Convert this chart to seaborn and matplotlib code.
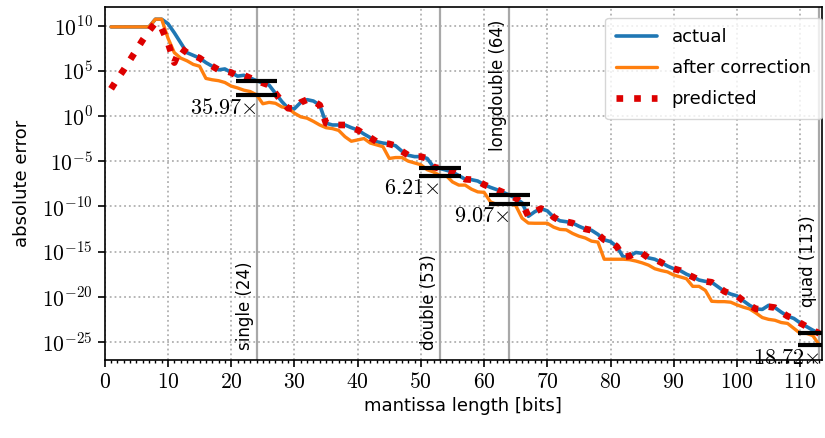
import matplotlib
matplotlib.use("Agg")
import matplotlib.pyplot as plt
import matplotlib.ticker as mticker
import numpy as np
import seaborn as sns

# mantissa length in bits
bits = list(range(1, 114))

# log10 of the absolute error
actual_log10 = [
    9.85, 9.85, 9.85, 9.85, 9.85, 9.85, 9.85, 10.7, 10.7, 10.2,
    9.2, 8.1, 7.0, 6.7, 6.4, 5.9, 5.5, 5.1, 5.2, 4.8,
    4.4, 4.5, 4.2, 3.9, 3.65, 3.4, 2.5, 1.6, 0.85, 0.8,
    1.5, 1.8, 1.65, 1.2, -0.8, -1.0, -1.0, -1.0, -1.3, -1.55,
    -2.0, -2.4, -2.85, -3.0, -3.1, -3.3, -3.9, -4.35, -4.5, -4.5,
    -4.7, -5.65, -5.8, -6.0, -6.2, -6.6, -7.0, -7.05, -7.2, -7.6,
    -7.9, -8.15, -8.45, -8.75, -9.1, -9.6, -11.1, -10.6, -10.25, -10.5,
    -11.2, -11.6, -11.7, -11.85, -12.2, -12.5, -12.65, -13.1, -13.7, -13.9,
    -14.45, -15.6, -15.5, -15.1, -15.2, -15.7, -15.85, -16.2, -16.6, -16.9,
    -17.1, -17.5, -17.8, -18.15, -18.3, -18.4, -18.9, -19.4, -19.7, -19.9,
    -20.45, -20.95, -21.35, -21.4, -20.95, -21.2, -21.7, -22.15, -22.4, -22.9,
    -23.3, -23.7, -24.05,
]
corrected_log10 = [
    9.85, 9.85, 9.85, 9.85, 9.85, 9.85, 9.85, 10.7, 10.7, 8.6,
    7.0, 6.4, 6.1, 5.7, 5.5, 4.15, 4.0, 3.9, 3.7, 3.3,
    3.1, 2.85, 2.7, 2.34, 1.35, 1.5, 1.4, 1.0, 0.85, 0.3,
    -0.1, -0.25, -0.6, -1.0, -1.3, -1.4, -1.6, -2.3, -2.8, -2.65,
    -2.5, -3.0, -3.2, -3.4, -4.7, -4.6, -4.6, -5.0, -5.2, -5.4,
    -5.95, -6.2, -6.59, -6.6, -7.3, -7.65, -7.65, -8.1, -8.4, -8.45,
    -9.5, -9.8, -9.75, -9.71, -9.9, -11.3, -11.85, -11.87, -11.87, -11.87,
    -12.3, -12.55, -12.6, -13.0, -13.3, -13.5, -13.85, -13.95, -15.85, -15.85,
    -15.85, -15.85, -15.9, -16.05, -16.25, -16.5, -16.9, -17.1, -17.25, -17.6,
    -17.8, -18.0, -18.85, -18.85, -19.3, -20.5, -20.54, -20.54, -20.6, -20.9,
    -21.15, -21.35, -21.8, -22.3, -22.5, -22.6, -22.85, -22.95, -23.5, -24.05,
    -24.05, -24.3, -25.32,
]
predicted_log10 = [
    3.0, 4.1, 5.1, 6.2, 7.3, 8.4, 9.4, 10.3, 9.7, 8.1,
    5.9, 7.5, 7.0, 6.7, 6.4, 5.9, 5.5, 5.1, 5.0, 4.8,
    4.4, 4.5, 4.2, 3.9, 3.65, 3.4, 2.5, 1.6, 0.85, 0.8,
    1.5, 1.8, 1.65, 1.2, -0.8, -1.0, -1.0, -1.0, -1.3, -1.55,
    -2.0, -2.4, -2.85, -3.0, -3.1, -3.3, -3.9, -4.35, -4.5, -4.5,
    -4.7, -5.65, -5.8, -6.0, -6.2, -6.6, -7.0, -7.05, -7.2, -7.6,
    -7.9, -8.15, -8.45, -8.75, -9.1, -9.6, -11.1, -10.6, -10.25, -10.5,
    -11.2, -11.6, -11.7, -11.85, -12.2, -12.5, -12.65, -13.1, -13.7, -13.9,
    -14.45, -15.6, -15.5, -15.1, -15.2, -15.7, -15.85, -16.2, -16.6, -16.9,
    -17.1, -17.5, -17.8, -18.15, -18.3, -18.4, -18.9, -19.4, -19.7, -19.9,
    -20.45, -20.95, -21.35, -21.4, -21.1, -21.2, -21.7, -22.15, -22.4, -22.9,
    -23.3, -23.7, -24.05,
]

format_names = ["single", "double", "longdouble", "quad"]
format_bits = [24, 53, 64, 113]
# where the rotated label sits, in axes fraction (va, y)
format_label_pos = [("bottom", 0.028), ("bottom", 0.028), ("top", 0.965), ("bottom", 0.15)]
improvement = [35.97, 6.21, 9.07, 18.72]

sns.set_theme(style="ticks", rc={
    "text.color": "black",
    "axes.labelcolor": "black",
    "axes.edgecolor": "black",
    "xtick.color": "black",
    "ytick.color": "black",
})
plt.rcParams["font.family"] = ["DejaVu Sans"]
plt.rcParams["mathtext.fontset"] = "cm"
plt.rcParams["axes.linewidth"] = 1.2

fig, ax = plt.subplots(figsize=(8.25, 4.38), dpi=100)
fig.subplots_adjust(left=0.127, right=0.996, top=0.984, bottom=0.178)

actual = 10.0 ** np.array(actual_log10)
corrected = 10.0 ** np.array(corrected_log10)
predicted = 10.0 ** np.array(predicted_log10)

sns.lineplot(x=bits, y=actual, ax=ax, color="#1f77b4", linewidth=2.6, label="actual", zorder=3)
sns.lineplot(x=bits, y=corrected, ax=ax, color="#ff7f0e", linewidth=2.4, label="after correction", zorder=3)
sns.lineplot(x=bits, y=predicted, ax=ax, color="#dd0000", linewidth=4.8, linestyle=":",
             label="predicted", zorder=4)

ax.set_yscale("log")
ax.set_xlim(0, 113.4)
ax.set_ylim(10.0 ** -27.0, 10.0 ** 12.05)
ax.set_yticks([10.0 ** k for k in range(-25, 11, 5)])
ax.yaxis.set_minor_locator(mticker.NullLocator())
ax.yaxis.set_major_formatter(mticker.FuncFormatter(
    lambda v, _p: f"$10^{{{int(round(np.log10(v)))}}}$"))
ax.xaxis.set_major_locator(mticker.MultipleLocator(10))
ax.xaxis.set_minor_locator(mticker.MultipleLocator(1))
ax.xaxis.set_major_formatter(mticker.FuncFormatter(lambda v, _p: f"${v:g}$"))
ax.tick_params(axis="both", which="major", labelsize=15.5, length=5, width=1.2, direction="out")
ax.tick_params(axis="x", which="minor", length=2.5, width=1.0, direction="out")
ax.grid(True, which="major", color="#b0b0b0", linestyle=":", linewidth=1.3)

trans = ax.get_xaxis_transform()
for name, b, (va, ypos) in zip(format_names, format_bits, format_label_pos):
    ax.axvline(b, color="#a8a8a8", linewidth=1.6, zorder=2)
    ax.text(b - 0.35, ypos, f"{name} ({b})", transform=trans, rotation=90,
            ha="right", va=va, fontsize=12)

for b, ratio in zip(format_bits, improvement):
    hi = actual[bits.index(b)]
    lo = hi / ratio
    ax.hlines([hi, lo], b - 3.3, b + 3.3, color="black", linewidth=3.0, zorder=5)
    ax.annotate(f"${ratio:.2f}{{\\times}}$", xy=(b, lo), xytext=(0, -2), textcoords="offset points",
                ha="right", va="top", fontsize=16, zorder=6)

ax.set_xlabel("mantissa length [bits]", fontsize=13)
ax.set_ylabel("absolute error", fontsize=13, labelpad=8)
ax.legend(loc="upper right", bbox_to_anchor=(1.0, 0.97), borderaxespad=0.0,
          fontsize=13, labelspacing=0.72, borderpad=0.6, handlelength=2.3)

fig.savefig("out.png", dpi=100)
